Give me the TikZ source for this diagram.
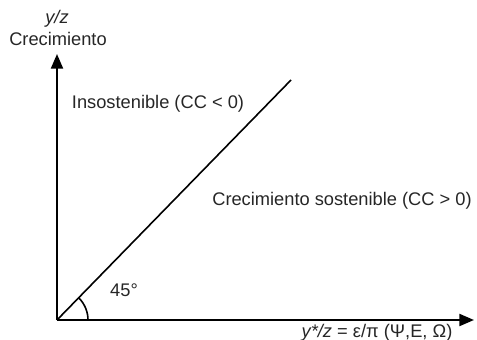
\documentclass[tikz,border=0pt]{standalone}
\usepackage{fontspec}
\setmainfont{Liberation Sans}
\usetikzlibrary{arrows.meta}
\begin{document}
\begin{tikzpicture}[
    x=0.75pt, y=0.75pt,
    axis/.style={line width=1.6pt, -{Triangle[length=11pt, width=9pt]}},
    lbl/.style={font=\fontsize{13.7}{15}\selectfont, inner sep=0pt, text=black!85},
  ]
    \useasboundingbox (-57,-19) rectangle (420,320);
    % axes
    \coordinate (o) at (0,0);
    \coordinate (ytip) at (0,266);
    \coordinate (xtip) at (417,0);
    \coordinate (diag) at (234,240);
    \draw[axis] (o) -- (ytip);
    \draw[axis] (o) -- (xtip);
    \draw[line width=1.2pt] (o) -- (diag);
    % angle
    \draw[line width=1.2pt] (31,0) arc[start angle=0, end angle=45, radius=31];
    \node[lbl] (ang) at (67,30) {45°};

    % labels
    \node[lbl] (ylab) at (0,301) {\textit{y/z}};
    \node[lbl] (ycrec) at (1,281) {Crecimiento};
    \node[lbl] (insost) at (101,216) {Insostenible (CC < 0)};
    \node[lbl] (sost) at (285,119) {Crecimiento sostenible (CC > 0)};
    \node[lbl, anchor=base] (xlab) at (320,-17) {\textit{y*/z} = ε/π (Ψ,E, Ω)};
  \end{tikzpicture}
\end{document}
